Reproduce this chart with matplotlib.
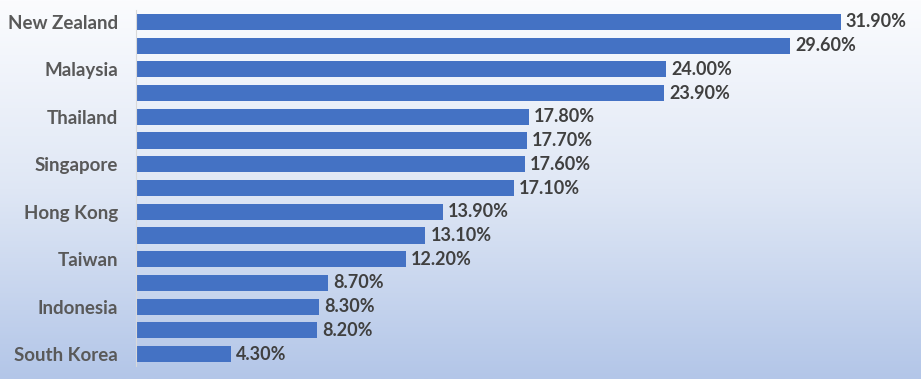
import numpy as np
import matplotlib.pyplot as plt
from matplotlib.colors import LinearSegmentedColormap

# category labels (only every other one is shown on the axis)
labels = ['New Zealand', '', 'Malaysia', '', 'Thailand', '', 'Singapore', '',
          'Hong Kong', '', 'Taiwan', '', 'Indonesia', '', 'South Korea']
values = [31.9, 29.6, 24.0, 23.9, 17.8, 17.7, 17.6, 17.1,
          13.9, 13.1, 12.2, 8.7, 8.3, 8.2, 4.3]

plt.rcParams['font.family'] = ['Lato', 'DejaVu Sans']

fig = plt.figure(figsize=(9.21, 3.79), dpi=100)

# gradient background, white at top to light blue at bottom
bg = fig.add_axes([0, 0, 1, 1], zorder=0)
cmap = LinearSegmentedColormap.from_list('bg', ['#fbfcfe', '#dfe7f5', '#b3c6e8'])
grad = np.linspace(0, 1, 256).reshape(-1, 1)
bg.imshow(grad, aspect='auto', cmap=cmap, extent=[0, 1, 0, 1])
bg.axis('off')

ax = fig.add_axes([136/921, 13/379, (905-136)/921, (369-13)/379], zorder=1)
ax.patch.set_alpha(0)

y = np.arange(len(values))
ax.barh(y, values, height=0.68, color='#4472c4')
ax.set_ylim(len(values) - 0.5, -0.5)
ax.set_xlim(0, 34.8)

for yi, v in zip(y, values):
    ax.text(v + 0.22, yi, '{:.2f}%'.format(v), va='center', ha='left',
            fontsize=13, fontweight='bold', color='#404040')

ax.set_yticks(y)
ax.set_yticklabels(labels, fontsize=13.5, fontweight='bold', color='#595959')
ax.tick_params(axis='y', length=0, pad=13)
ax.set_xticks([])
for s in ['top', 'right', 'bottom']:
    ax.spines[s].set_visible(False)
ax.spines['left'].set_color('#d9d9d9')
ax.spines['left'].set_linewidth(0.8)

fig.savefig('out.png', dpi=100)
